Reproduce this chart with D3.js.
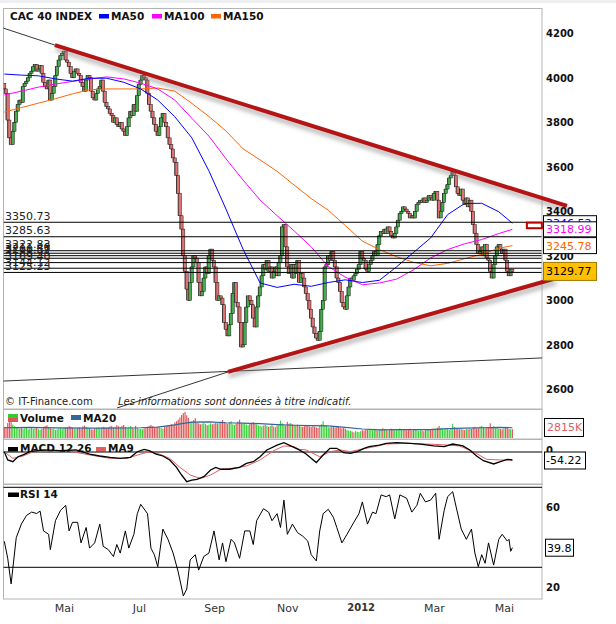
<!DOCTYPE html>
<meta charset="utf-8">
<head>
  <title>CAC 40 INDEX</title>
</head>
<style>
body { margin: 0; background: #fff; }
text { font-family: "DejaVu Sans", Verdana, sans-serif; }
.panel { fill: none; stroke: #b4b4b4; stroke-width: 1px; }
.axis path { display: none; }
</style>
<body>
<script src="https://d3js.org/d3.v7.min.js"></script>
<script>

// ---- data : CAC 40 daily closes, Mar 2011 -> May 2012 ----
var monthNames = ["Mar", "Avr", "Mai", "Jun", "Jul", "Aoû", "Sep", "Oct", "Nov", "Déc", "2012", "Fév", "Mar", "Avr", "Mai"];
var firstOpen = 3975;

var closeMar11 = [3950,3930,3810,3730,3700,3760,3800,3850,3880,3900,3890,3960,3975,3985,4000,4020];
var closeApr11 = [4030,4050,4060,4030,4040,4055,4020,3980,3960,3950,3990,3900,3930,3960,4010,4050,4080,4100,4110];
var closeMay11 = [4120,4080,4070,4050,4020,4000,4030,4040,4020,4010,3980,3960,3940,3990,4010,4000,3940,3910,3900,3930,3950,3960];
var closeJun11 = [3990,3940,3890,3870,3860,3840,3830,3800,3820,3790,3780,3800,3770,3760,3740,3780,3820,3850,3830,3880,3850,3920];
var closeJul11 = [3970,3990,4010,4000,3990,3930,3880,3850,3820,3790,3760,3740,3780,3820,3840,3800,3780,3730,3700,3680,3640];
var closeAug11 = [3620,3560,3480,3380,3320,3200,3130,3050,3000,3080,3150,3200,3190,3170,3080,3020,3040,3100,3150,3120,3200,3230,3180];
var closeSep11 = [3150,3080,3000,3020,3010,2980,2900,2870,2840,2890,2940,3030,3080,2990,2970,2900,2790,2800,2900,2970,3020,3000];
var closeOct11 = [2980,2920,2880,2970,3020,3060,3110,3160,3140,3180,3130,3150,3100,3130,3150,3110,3170,3200,3330,3340,3240];
var closeNov11 = [3150,3120,3160,3100,3160,3120,3180,3080,3120,3100,3060,3030,3000,2960,2920,2880,2850,2830,2820,2860,2960,3000];
var closeDec11 = [3150,3160,3200,3180,3220,3180,3150,3100,3080,3040,2990,2970,2960,3020,3060,3100,3090,3110,3120,3140,3160];
var closeJan12 = [3220,3190,3180,3140,3130,3160,3180,3200,3220,3200,3250,3290,3310,3300,3320,3300,3330,3310,3290,3280,3300,3330];
var closeFeb12 = [3360,3390,3400,3420,3410,3400,3390,3370,3380,3370,3400,3430,3440,3450,3440,3460,3440,3450,3470,3460,3450];
var closeMar12 = [3480,3490,3450,3370,3400,3440,3480,3500,3520,3550,3560,3580,3560,3510,3480,3470,3500,3450,3430,3460,3420,3450];
var closeApr12 = [3400,3340,3300,3250,3210,3220,3240,3200,3250,3190,3180,3130,3100,3160,3200,3240,3250,3230,3210];
var closeMay12 = [3230,3180,3130,3110,3140,3129.77];

// volumes, thousands
var volMar11 = [3600,3400,4800,6200,5100,4300,3800,3500,3200,3000,3300,2900,3100,3400,2800,3000];
var volApr11 = [3200,2900,3100,3300,2800,2700,3000,3600,3800,4100,3500,3200,2900,3000,2600,2800,3100,3300,2900];
var volMay11 = [3400,3200,3500,3800,3600,3300,3100,2900,3200,3400,3000,3700,4000,3600,3300,3100,2800,2700,3000,3200,3400,3100];
var volJun11 = [3300,3600,3400,3200,3500,3700,3900,3400,3600,4100,3800,3500,3900,4200,3600,3300,3500,3800,3400,3100,3900,3300];
var volJul11 = [3000,2900,2800,3100,3400,3600,3900,4200,3800,3500,3300,3700,3400,3200,3000,3600,3800,3900,4100,4400,4300];
var volAug11 = [5000,5400,5900,6600,7400,8000,8400,7300,6500,5200,5300,5800,6400,5000,4700,4400,4600,4800,4500,4100,4300,4700,4400];
var volSep11 = [4600,5000,4700,4900,5300,5800,5200,4800,4600,5100,5400,4400,4200,4600,5300,5900,4900,4500,4800,4300,4100,4600];
var volOct11 = [4900,5100,4700,4400,4100,3900,3700,4000,4200,3900,3600,3800,4100,3700,3500,4000,4400,5600,4700,4100,3900];
var volNov11 = [5200,4600,4800,4400,4200,4000,4300,3900,3700,3600,3800,4000,3900,3700,3500,3800,3600,3400,3300,4000,4400,5400];
var volDec11 = [4100,3900,3500,3400,3800,3600,3400,3900,3700,3300,3100,3200,3000,2600,2400,2300,2100,1800,2200,2000,1900];
var volJan12 = [2200,2500,2400,2700,2600,2900,2800,2500,3000,2700,2400,2600,2900,3100,2800,2600,2400,2700,3000,2800,2500,2700];
var volFeb12 = [2900,3100,2800,2700,2600,2500,2800,3000,2400,2600,2700,2500,2300,2600,2400,2200,2500,2700,2800,2600,3000];
var volMar12 = [3000,2800,3300,3900,3200,2900,2700,2900,2800,2600,3000,4600,3500,3100,2900,2800,3000,2700,2600,2900,2800,3100];
var volApr12 = [2900,3400,3600,3100,3300,3700,3900,3400,3100,3300,3200,4700,3500,3800,3400,3300,3000,2900,2800];
var volMay12 = [3100,3400,3200,2900,2800,2815];

// moving averages (trading-day index, value)
var maDays   = [0,10,20,30,40,50,60,70,80,90,100,110,120,130,140,150,160,170,180,190,200,210,220,230,240,250,260,270,280,290,298];
var ma50     = [4017,4012,4009,3995,3985,3998,3998,3980,3950,3900,3825,3730,3582,3410,3230,3078,3058,3072,3063,3080,3092,3080,3090,3150,3215,3280,3385,3435,3436,3398,3346.52];
var ma100    = [3923,3940,3958,3972,3984,3995,4004,3995,3976,3950,3900,3818,3738,3636,3541,3451,3380,3312,3240,3152,3104,3070,3078,3095,3137,3190,3228,3254,3273,3300,3318.99];
var ma150    = [3846,3866,3886,3906,3928,3946,3950,3950,3950,3954,3940,3885,3826,3761,3681,3631,3580,3518,3457,3405,3336,3266,3228,3196,3171,3155,3166,3187,3207,3234,3245.78];

var volMaDays = [0,15,30,50,60,80,90,100,105,110,120,130,140,150,160,170,180,190,200,210,220,230,240,250,260,270,280,290,298];
var volMa20   = [3300,3400,3250,3200,3150,3300,3500,4200,4700,5100,5200,4900,4800,4600,4300,4100,4000,3900,3400,2900,2600,2700,2700,2700,3000,3200,3300,3400,3300];

var macdDays = [0,2,5,8,11,15,23,33,42,50,56,62,68,74,78,82,85,89,93,97,101,104,107,110,113,117,121,124,127,132,138,142,146,150,154,160,164,168,173,177,183,187,191,195,199,203,207,211,214,220,224,230,238,244,252,258,263,269,273,277,281,287,291,295,298];
var macdVal  = [2,-54,-66,-32,-20,2,14,9,14,-14,-27,-36,-43,-36,2,18,9,-14,-27,-54,-104,-156,-201,-190,-185,-167,-122,-104,-117,-117,-104,-77,-66,-32,14,47,63,41,14,-14,-72,-20,25,25,-5,-9,2,25,36,47,59,63,59,54,41,36,54,41,14,-27,-59,-81,-66,-50,-54.22];
var sigDays  = [0,5,11,17,37,50,62,72,80,85,91,97,103,109,115,121,127,134,142,150,158,164,170,173,177,185,191,197,203,209,217,224,236,252,260,267,275,283,291,298];
var sigVal   = [2,-43,-27,2,9,-20,-43,-43,-14,2,-14,-43,-104,-156,-179,-156,-117,-110,-95,-54,9,41,36,18,14,-32,2,14,2,18,36,54,59,52,47,41,2,-50,-54,-54];

var rsiDays = [0,2,4,5,7,10,13,16,19,21,23,26,27,30,33,36,38,40,43,45,48,50,53,56,58,61,64,66,68,71,73,76,78,80,84,86,88,90,93,96,99,102,105,107,109,112,114,117,120,123,126,128,130,133,135,138,141,144,146,148,152,155,157,160,162,164,166,169,172,175,178,180,183,185,187,190,193,195,198,201,205,208,210,213,216,218,221,224,226,229,232,236,239,242,244,247,250,253,255,258,260,263,265,268,271,274,276,278,280,282,284,287,290,292,295,296,297,298];
var rsiVal  = [43,34.5,21.7,29.4,44.8,51.6,55.9,57.6,56.9,58.1,48.2,46.5,38.8,53.3,58.5,61,48.2,52.5,52.5,42.2,49.9,39.6,42.2,51.6,40.5,38.8,35.4,41.4,37.1,48.2,39.6,46.5,56.8,61.5,56.8,39.6,36.3,30.3,49.1,44,37.1,27.7,15.7,19.1,33.7,36.3,28.6,35.4,37.1,48.2,33.7,42.2,32.8,44,42.2,34.5,48.2,48.2,41.4,53.3,59.3,57.6,53.3,56.8,49.9,63.6,46.5,51.6,47.3,45.6,43.1,36.3,33.2,48.2,56.8,59,55,49.9,42.2,46.5,52.5,56.8,62.7,51.6,57.6,56.8,66.2,65.3,66.2,54.2,66.2,64.5,57.6,61,67,62.7,63.6,67,44,58.5,65.3,67.8,60.2,49.1,44,49.1,37.1,30.3,36.3,32,42.2,31.1,44,46.5,43.1,44,38,39.8];

// support / resistance levels and trend lines (index, price)
var levels = [3350.73, 3285.63, 3222.83, 3211.46, 3200.57, 3188.94, 3169.40, 3144.12, 3125.23];
var trendUpper = [[29.7, 4147], [330, 3424]];
var trendLower = [[131.2, 2678], [323, 3098]];
var guideUpper = [[-0.8, 4224], [29.7, 4147]];
var guideLower = [[66.1, 2516], [131.2, 2678]];
var guideFlat  = [[-0.8, 2637], [315.4, 2741]];

var closeMonths = [closeMar11, closeApr11, closeMay11, closeJun11, closeJul11, closeAug11, closeSep11, closeOct11, closeNov11, closeDec11, closeJan12, closeFeb12, closeMar12, closeApr12, closeMay12];
var volMonths = [volMar11, volApr11, volMay11, volJun11, volJul11, volAug11, volSep11, volOct11, volNov11, volDec11, volJan12, volFeb12, volMar12, volApr12, volMay12];

var closes = d3.merge(closeMonths);
var volumes = d3.merge(volMonths);
var monthStart = Array.from(d3.cumsum([0].concat(closeMonths.map(function(m) { return m.length; }))));
var n = closes.length;

// ---- layout ----
var svg = d3.select("body").append("svg")
  .attr("width", 616)
  .attr("height", 624);

svg.append("rect").attr("x", 0).attr("y", 0).attr("width", 616).attr("height", 3).attr("fill", "#eceef0");

var x = d3.scaleLinear().domain([0, n - 1]).range([4.3, 512.4]);
var y = d3.scaleLinear().domain([2600, 4200]).range([389.3, 33.3]);
var yVol = d3.scaleLinear().domain([0, 9000]).range([438, 410]);
var yMacd = d3.scaleLinear().domain([-200, 0]).range([481.5, 452]);
var yRsi = d3.scaleLinear().domain([30, 70]).range([567.3, 487.3]);

var defs = svg.append("defs");
defs.append("clipPath").attr("id", "clipMain").append("rect")
  .attr("x", 3.5).attr("y", 8.5).attr("width", 538).attr("height", 400);
defs.append("clipPath").attr("id", "clipTrend").append("rect")
  .attr("x", 3.5).attr("y", 8.5).attr("width", 600).attr("height", 400);
defs.append("filter").attr("id", "shadow").attr("x", "-10%").attr("y", "-50%").attr("width", "120%").attr("height", "200%")
  .append("feGaussianBlur").attr("stdDeviation", 2.2);

// panels
svg.append("rect").attr("class", "panel").attr("x", 3.5).attr("y", 8.5).attr("width", 538.5).attr("height", 400.5);
svg.append("rect").attr("class", "panel").attr("x", 3.5).attr("y", 409.5).attr("width", 538.5).attr("height", 29.5);
svg.append("rect").attr("class", "panel").attr("x", 3.5).attr("y", 439.5).attr("width", 538.5).attr("height", 44.5);
svg.append("rect").attr("class", "panel").attr("x", 3.5).attr("y", 484.5).attr("width", 538.5).attr("height", 114.5);

// ---- price panel ----
var main = svg.append("g").attr("clip-path", "url(#clipMain)");

var candles = closes.map(function(c, i) {
  var o = i ? closes[i - 1] : firstOpen;
  var nx = i < n - 1 ? closes[i + 1] : c;
  return {i: i, o: o, c: c, h: Math.max(o, c, nx), l: Math.min(o, c, nx)};
});

main.selectAll(".wick").data(candles).enter().append("line")
  .attr("x1", function(d) { return x(d.i); })
  .attr("x2", function(d) { return x(d.i); })
  .attr("y1", function(d) { return y(d.h); })
  .attr("y2", function(d) { return y(d.l); })
  .attr("stroke", "#111").attr("stroke-width", 0.8);

main.selectAll(".body").data(candles).enter().append("rect")
  .attr("x", function(d) { return x(d.i) - 1.5; })
  .attr("width", 3)
  .attr("y", function(d) { return y(Math.max(d.o, d.c)); })
  .attr("height", function(d) { return Math.max(1, Math.abs(y(d.o) - y(d.c))); })
  .attr("fill", function(d) { return d.c >= d.o ? "#43ad4b" : "#de7272"; })
  .attr("stroke", "#1a1a1a").attr("stroke-width", 0.5);

var line = d3.line().x(function(d) { return x(d[0]); }).y(function(d) { return y(d[1]); });

[[ma150, "#ff6600"], [ma100, "#ff00ff"], [ma50, "#0000ff"]].forEach(function(m) {
  main.append("path").datum(d3.zip(maDays, m[0]))
    .attr("d", line).attr("fill", "none").attr("stroke", m[1]).attr("stroke-width", 1);
});

main.selectAll(".level").data(levels).enter().append("line")
  .attr("x1", 3.5).attr("x2", 542)
  .attr("y1", function(d) { return y(d); })
  .attr("y2", function(d) { return y(d); })
  .attr("stroke", "#000").attr("stroke-width", 1);

svg.selectAll(".levelLabel").data(levels).enter().append("text")
  .attr("x", 5)
  .attr("y", function(d) { return y(d) - 2.5; })
  .attr("font-size", 11).attr("fill", "#222")
  .text(function(d) { return d.toFixed(2); });

// trend lines
var trend = svg.append("g").attr("clip-path", "url(#clipTrend)");
[guideUpper, guideLower, guideFlat].forEach(function(g) {
  trend.append("path").datum(g).attr("d", line).attr("stroke", "#000").attr("stroke-width", 0.8).attr("fill", "none");
});
[trendUpper, trendLower].forEach(function(t) {
  trend.append("path").datum(t).attr("d", line)
    .attr("transform", "translate(1,4)")
    .attr("stroke", "#888").attr("stroke-opacity", 0.55).attr("stroke-width", 5)
    .attr("filter", "url(#shadow)").attr("fill", "none");
  trend.append("path").datum(t).attr("d", line)
    .attr("stroke", "#b41414").attr("stroke-width", 4).attr("fill", "none");
});

// alert marker
svg.append("rect")
  .attr("x", x(306.5)).attr("width", x(315.3) - x(306.5))
  .attr("y", y(3349)).attr("height", y(3324) - y(3349))
  .attr("fill", "#fff").attr("stroke", "#c00000").attr("stroke-width", 2);

// right price axis
svg.append("g").attr("class", "axis").attr("transform", "translate(542,0)")
  .call(d3.axisRight(y).tickValues(d3.range(2600, 4201, 200)).tickSize(0).tickPadding(4).tickFormat(d3.format("d")))
  .selectAll("text").attr("font-size", 10).attr("font-weight", "bold").attr("fill", "#111")
  .attr("font-family", "DejaVu Sans, Verdana, sans-serif");

// value boxes
function valueBox(v, h, stroke, fill, color, label) {
  var g = svg.append("g");
  g.append("rect").attr("x", 543.5).attr("y", y(v) - h / 2).attr("width", 53).attr("height", h)
    .attr("fill", fill).attr("stroke", stroke).attr("stroke-width", 1);
  g.append("text").attr("x", 546).attr("y", y(v)).attr("dy", "0.36em")
    .attr("font-size", 11).attr("fill", color).text(label);
}
valueBox(ma50[ma50.length - 1], 15, "#000", "#fff", "#0000ff", ma50[ma50.length - 1].toFixed(2));
valueBox(ma150[ma150.length - 1], 16, "#000", "#fff", "#ff6600", ma150[ma150.length - 1].toFixed(2));
valueBox(ma100[ma100.length - 1], 15, "#000", "#fff", "#ff00ff", ma100[ma100.length - 1].toFixed(2));
valueBox(closes[n - 1], 18, "#a07800", "#ffc000", "#000", closes[n - 1].toFixed(2));

// legend
var legend = svg.append("g").attr("font-size", 10.5).attr("font-weight", "bold").attr("fill", "#111");
legend.append("text").attr("x", 10).attr("y", 20).text("CAC 40 INDEX");
[["MA50", "#0000ff", 99], ["MA100", "#ff00ff", 152], ["MA150", "#ff6600", 211]].forEach(function(l) {
  legend.append("rect").attr("x", l[2]).attr("y", 14).attr("width", 10).attr("height", 4.5).attr("fill", l[1]);
  legend.append("text").attr("x", l[2] + 12).attr("y", 20).text(l[0]);
});

svg.append("text").attr("x", 5).attr("y", 405).attr("font-size", 10).attr("fill", "#222").text("© IT-Finance.com");
svg.append("text").attr("x", 118).attr("y", 405).attr("font-size", 10).attr("font-style", "italic").attr("fill", "#222")
  .text("Les informations sont données à titre indicatif.");

// ---- volume panel ----
svg.append("rect").attr("x", 8).attr("y", 414).attr("width", 10).attr("height", 4).attr("fill", "#33cc33");
svg.append("rect").attr("x", 8).attr("y", 418).attr("width", 10).attr("height", 4).attr("fill", "#e05555");
svg.append("text").attr("x", 20).attr("y", 422).attr("font-size", 10.5).attr("font-weight", "bold").attr("fill", "#111").text("Volume");
svg.append("rect").attr("x", 71).attr("y", 415).attr("width", 10).attr("height", 5).attr("fill", "#336699");
svg.append("text").attr("x", 83).attr("y", 422).attr("font-size", 10.5).attr("font-weight", "bold").attr("fill", "#111").text("MA20");

svg.selectAll(".vol").data(volumes).enter().append("rect")
  .attr("x", function(d, i) { return x(i) - 0.6; })
  .attr("width", 1.2)
  .attr("y", function(d) { return yVol(d); })
  .attr("height", function(d) { return yVol(0) - yVol(d); })
  .attr("fill", function(d, i) { return candles[i].c >= candles[i].o ? "#3cd23c" : "#e05a5a"; });

svg.append("path").datum(d3.zip(volMaDays, volMa20))
  .attr("d", d3.line().x(function(d) { return x(d[0]); }).y(function(d) { return yVol(d[1]); }))
  .attr("fill", "none").attr("stroke", "#336699").attr("stroke-width", 1.2);

svg.append("rect").attr("x", 544.5).attr("y", 418.5).attr("width", 39).attr("height", 18)
  .attr("fill", "#fff").attr("stroke", "#000");
svg.append("text").attr("x", 547).attr("y", 427.5).attr("dy", "0.36em").attr("font-size", 11).attr("fill", "#e06060")
  .text(d3.format("d")(volumes[n - 1]) + "K");

// ---- MACD panel ----
svg.append("rect").attr("x", 8).attr("y", 447).attr("width", 10).attr("height", 4.5).attr("fill", "#000");
svg.append("text").attr("x", 20).attr("y", 452).attr("font-size", 10.5).attr("font-weight", "bold").attr("fill", "#111").text("MACD 12 26");
svg.append("rect").attr("x", 96).attr("y", 447).attr("width", 10).attr("height", 4.5).attr("fill", "#e06060");
svg.append("text").attr("x", 108).attr("y", 452).attr("font-size", 10.5).attr("font-weight", "bold").attr("fill", "#111").text("MA9");

svg.append("line").attr("x1", 3.5).attr("x2", 542).attr("y1", yMacd(0)).attr("y2", yMacd(0)).attr("stroke", "#000").attr("stroke-width", 1);
var mline = d3.line().x(function(d) { return x(d[0]); }).y(function(d) { return yMacd(d[1]); });
svg.append("path").datum(d3.zip(sigDays, sigVal)).attr("d", mline).attr("fill", "none").attr("stroke", "#e06060").attr("stroke-width", 1);
svg.append("path").datum(d3.zip(macdDays, macdVal)).attr("d", mline).attr("fill", "none").attr("stroke", "#000").attr("stroke-width", 1.3);

svg.append("g").attr("class", "axis").attr("transform", "translate(542,0)")
  .call(d3.axisRight(yMacd).tickValues([0]).tickSize(0).tickPadding(4))
  .selectAll("text").attr("font-size", 10).attr("font-weight", "bold").attr("fill", "#111").attr("dy", "0.1em");
svg.append("rect").attr("x", 544.5).attr("y", yMacd(macdVal[macdVal.length - 1]) - 8).attr("width", 41).attr("height", 17)
  .attr("fill", "#fff").attr("stroke", "#000");
svg.append("text").attr("x", 546).attr("y", yMacd(macdVal[macdVal.length - 1])).attr("dy", "0.36em").attr("font-size", 11).attr("fill", "#000")
  .text(macdVal[macdVal.length - 1].toFixed(2));

// ---- RSI panel ----
svg.append("rect").attr("x", 8).attr("y", 492.5).attr("width", 11).attr("height", 4.5).attr("fill", "#000");
svg.append("text").attr("x", 20).attr("y", 498).attr("font-size", 10.5).attr("font-weight", "bold").attr("fill", "#111").text("RSI 14");

[70, 30].forEach(function(r) {
  svg.append("line").attr("x1", 3.5).attr("x2", 542).attr("y1", yRsi(r)).attr("y2", yRsi(r)).attr("stroke", "#000").attr("stroke-width", 1);
});
svg.append("path").datum(d3.zip(rsiDays, rsiVal))
  .attr("d", d3.line().x(function(d) { return x(d[0]); }).y(function(d) { return yRsi(d[1]); }))
  .attr("fill", "none").attr("stroke", "#000").attr("stroke-width", 1);

svg.append("g").attr("class", "axis").attr("transform", "translate(542,0)")
  .call(d3.axisRight(yRsi).tickValues([20, 60]).tickSize(0).tickPadding(4))
  .selectAll("text").attr("font-size", 10).attr("font-weight", "bold").attr("fill", "#111");
svg.append("rect").attr("x", 545.5).attr("y", yRsi(rsiVal[rsiVal.length - 1]) - 8.5).attr("width", 28).attr("height", 17)
  .attr("fill", "#fff").attr("stroke", "#000");
svg.append("text").attr("x", 547).attr("y", yRsi(rsiVal[rsiVal.length - 1])).attr("dy", "0.36em").attr("font-size", 11).attr("fill", "#000")
  .text(rsiVal[rsiVal.length - 1].toFixed(1));

// ---- time axis ----
var tickMonths = [2, 4, 6, 8, 10, 12, 14];
var xAxis = svg.append("g").attr("class", "axis").attr("transform", "translate(0,599)")
  .call(d3.axisBottom(x)
    .tickValues(tickMonths.map(function(k) { return monthStart[k]; }))
    .tickFormat(function(d) { return monthNames[monthStart.indexOf(d)]; })
    .tickSize(0).tickPadding(5));
xAxis.selectAll("text")
  .attr("font-size", function(d) { return monthNames[monthStart.indexOf(d)] === "2012" ? 10 : 11; })
  .attr("font-weight", function(d) { return monthNames[monthStart.indexOf(d)] === "2012" ? "bold" : "normal"; })
  .attr("fill", "#333");

</script>
</body>
